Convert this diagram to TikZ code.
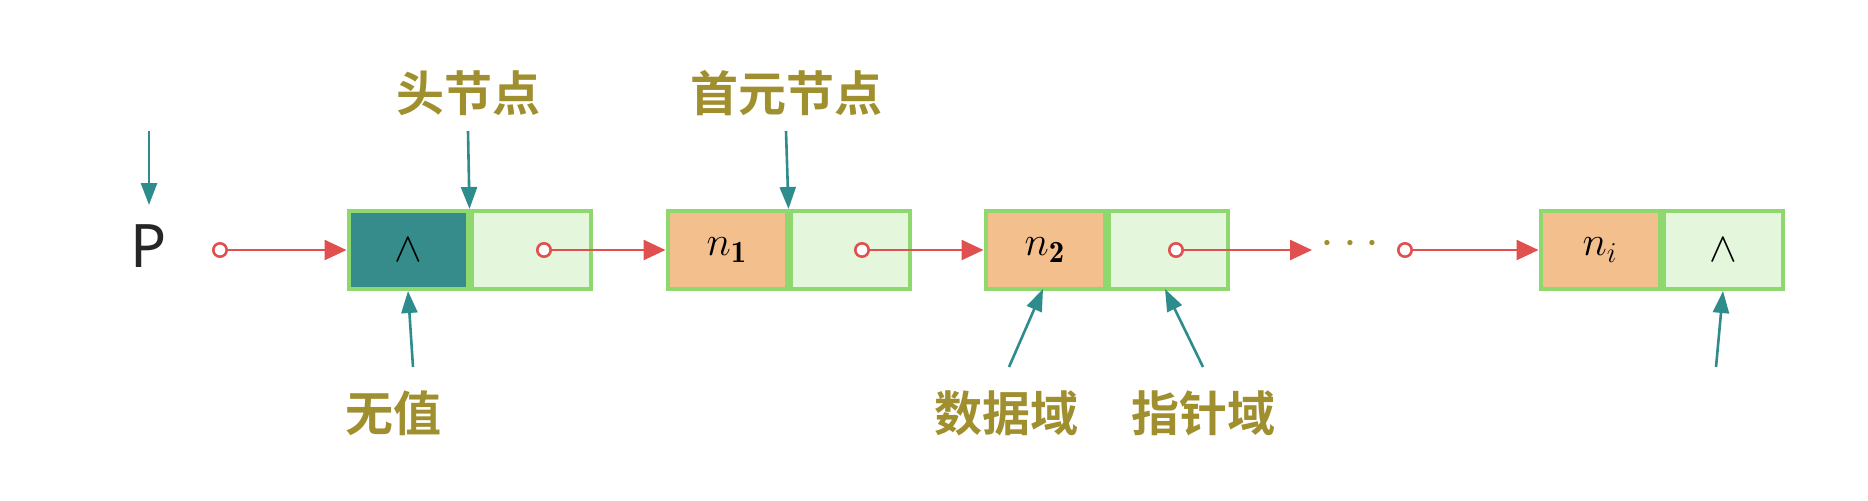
\documentclass[tikz,border=0pt]{standalone}
\usepackage{fontspec}
\newfontfamily\cjk{Noto Sans CJK SC}[BoldFont={* Bold}]
\setsansfont{Noto Sans}
\usetikzlibrary{arrows.meta,positioning}
\definecolor{cellgreen}{HTML}{8FD870}
\definecolor{ptrfill}{HTML}{E4F6DC}
\definecolor{datafill}{HTML}{F2BF8D}
\definecolor{headfill}{HTML}{358C8A}
\definecolor{linkred}{HTML}{E0504F}
\definecolor{tagteal}{HTML}{2F8C8C}
\definecolor{tagolive}{HTML}{A08F2E}

\begin{document}
\begin{tikzpicture}[x=0.5pt,y=-0.5pt,
  cell/.style={draw=cellgreen,line width=2pt,minimum width=59.5pt,minimum height=39pt,inner sep=0pt,font=\fontsize{22}{22}\selectfont},
  datacell/.style={cell,fill=datafill},
  ptrcell/.style={cell,fill=ptrfill},
  link/.style={draw=linkred,line width=1.3pt,{Circle[open,fill=white,length=8pt,width=8pt]}-{Triangle[length=11pt,width=10pt]}},
  tag/.style={draw=tagteal,line width=1.3pt,-{Triangle[length=11pt,width=8pt]}},
  label/.style={text=tagolive,font=\cjk\bfseries\fontsize{24}{24}\selectfont}]
	\useasboundingbox (0,0) rectangle (1868,500);

	% list cells
	\node[cell,fill=headfill] (hd)  at (408,250)  {$\wedge$};
	\node[ptrcell,right=0pt of hd]  (hp)  {};
	\node[datacell] (d1) at (727,250)  {$n_{\mathbf{1}}$};
	\node[ptrcell,right=0pt of d1]  (p1)  {};
	\node[datacell] (d2) at (1045,250) {$n_{\mathbf{2}}$};
	\node[ptrcell,right=0pt of d2]  (p2)  {};
	\node[datacell] (di) at (1600,250) {$n_i$};
	\node[ptrcell,right=0pt of di]  (pi)  {$\wedge$};

	\node[font=\sffamily\bfseries\fontsize{30}{30}\selectfont,text=black!85] (P) at (149,246) {P};
	\node[text=tagolive,font=\fontsize{30}{30}\selectfont] (dots) at (1350,244) {$\cdots$};

	% links
	\coordinate (s0) at (212,250);
	\coordinate (s1) at (536,250);
	\coordinate (s2) at (854,250);
	\coordinate (s3) at (1168,250);
	\coordinate (s4) at (1397,250);
	\coordinate (e3) at (1312,250);
	\draw[link] (s0) -- (hd.west);
	\draw[link] (s1) -- (d1.west);
	\draw[link] (s2) -- (d2.west);
	\draw[link] (s3) -- (e3);
	\draw[link] (s4) -- (di.west);

	% tags
	\node[label] (head) at (468,93)   {头节点};
	\node[label] (first) at (786,93)  {首元节点};
	\node[label] (none) at (393,413)  {无值};
	\node[label] (data) at (1006,413) {数据域};
	\node[label] (ptr) at (1203,413)  {指针域};
	\coordinate (ptop) at (149,131);
	\coordinate (pend) at (149,205);
	\coordinate (htop) at (468,131);
	\coordinate (ftop) at (786,131);
	\coordinate (nbot) at (413,367);
	\coordinate (dbot) at (1009,367);
	\coordinate (dend) at (1043,289);
	\coordinate (pbot) at (1203,367);
	\coordinate (qend) at (1165,289);
	\coordinate (ibot) at (1716,367);
	\draw[tag] (ptop) -- (pend);
	\draw[tag] (htop) -- (hd.north east);
	\draw[tag] (ftop) -- (d1.north east);
	\draw[tag] (nbot) -- (hd.south);
	\draw[tag] (dbot) -- (dend);
	\draw[tag] (pbot) -- (qend);
	\draw[tag] (ibot) -- (pi.south);
\end{tikzpicture}
\end{document}
